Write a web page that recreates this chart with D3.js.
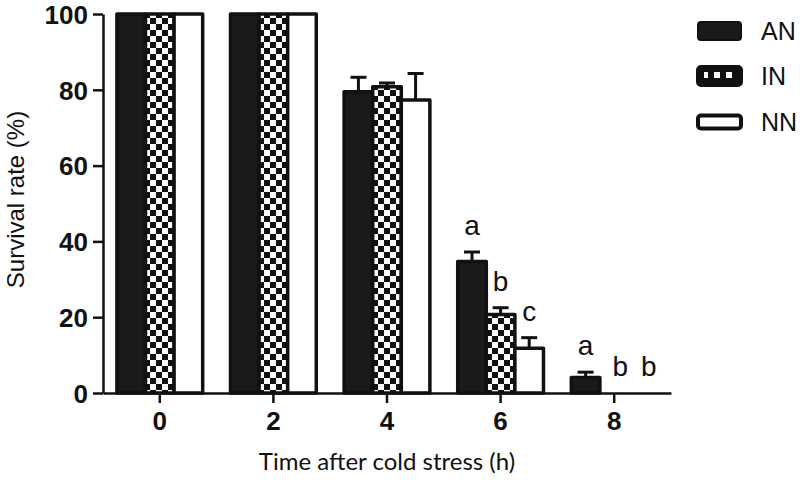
<!DOCTYPE html>
<html>
<head>
<meta charset="utf-8">
<script src="https://cdn.jsdelivr.net/npm/d3@7"></script>
<style>
  body { margin: 0; background: #fff; }
  svg { display: block; }
</style>
</head>
<body>
<svg id="chart" width="800" height="480"></svg>
<script>
// ---- data ----
const times = ["0", "2", "4", "6", "8"];
const seriesNames = ["AN", "IN", "NN"];
const valuesAN = [100, 100, 79.5, 34.7, 4.1];
const valuesIN = [100, 100, 80.8, 20.7, 0];
const valuesNN = [100, 100, 77.3, 11.8, 0];
const errAN = [0, 0, 3.8, 2.5, 1.4];
const errIN = [0, 0, 1.0, 1.8, 0];
const errNN = [0, 0, 7.0, 2.8, 0];
const lettersAN = ["", "", "", "a", "a"];
const lettersIN = ["", "", "", "b", "b"];
const lettersNN = ["", "", "", "c", "b"];
const yTicks = [0, 20, 40, 60, 80, 100];

const values = { AN: valuesAN, IN: valuesIN, NN: valuesNN };
const errs = { AN: errAN, IN: errIN, NN: errNN };
const letters = { AN: lettersAN, IN: lettersIN, NN: lettersNN };

const svg = d3.select("#chart");
const defs = svg.append("defs");
const pat = defs.append("pattern").attr("id", "checker")
  .attr("patternUnits", "userSpaceOnUse").attr("width", 12).attr("height", 12);
pat.append("rect").attr("width", 12).attr("height", 12).attr("fill", "#fff");
pat.append("rect").attr("x", 0).attr("y", 0).attr("width", 6).attr("height", 6).attr("fill", "#111");
pat.append("rect").attr("x", 6).attr("y", 6).attr("width", 6).attr("height", 6).attr("fill", "#111");

const fills = { AN: "#1a1a1a", IN: "url(#checker)", NN: "#fff" };

const x0 = d3.scaleBand().domain(times).range([103, 671]).padding(0);
const groupW = x0.bandwidth() * 0.755;
const x1 = d3.scaleBand().domain(seriesNames).range([0, groupW]).padding(0);
const y = d3.scaleLinear().domain([0, 100]).range([393, 14]);

const rows = [];
times.forEach((t, i) => {
  seriesNames.forEach(s => {
    rows.push({ t, s, v: values[s][i], e: errs[s][i], l: letters[s][i] });
  });
});

const barX = d => x0(d.t) + (x0.bandwidth() - groupW) / 2 + x1(d.s);

// bars
const g = svg.append("g");
g.selectAll("rect.bar").data(rows.filter(d => d.v > 0)).join("rect")
  .attr("class", "bar")
  .attr("x", d => barX(d))
  .attr("y", d => y(d.v))
  .attr("width", x1.bandwidth())
  .attr("height", d => y(0) - y(d.v))
  .attr("fill", d => fills[d.s])
  .attr("stroke", "#111")
  .attr("stroke-width", 3.5)
  .attr("stroke-linejoin", "round");

// error bars
const eb = rows.filter(d => d.e > 0);
g.selectAll("line.err").data(eb).join("line")
  .attr("x1", d => barX(d) + x1.bandwidth() / 2)
  .attr("x2", d => barX(d) + x1.bandwidth() / 2)
  .attr("y1", d => y(d.v))
  .attr("y2", d => y(d.v + d.e))
  .attr("stroke", "#111").attr("stroke-width", 3);
g.selectAll("line.cap").data(eb).join("line")
  .attr("x1", d => barX(d) + x1.bandwidth() / 2 - 8)
  .attr("x2", d => barX(d) + x1.bandwidth() / 2 + 8)
  .attr("y1", d => y(d.v + d.e))
  .attr("y2", d => y(d.v + d.e))
  .attr("stroke", "#111").attr("stroke-width", 3);

// letters
g.selectAll("text.let").data(rows.filter(d => d.l)).join("text")
  .attr("x", d => barX(d) + x1.bandwidth() / 2 + (d.t === "8" && d.s !== "AN" ? 6 : 0))
  .attr("y", d => y(d.v + d.e) - 17)
  .attr("text-anchor", "middle")
  .attr("font-family", "Liberation Sans, Arial, sans-serif")
  .attr("font-size", 28)
  .attr("fill", "#111")
  .text(d => d.l);

// axes
const yAxis = svg.append("g").attr("transform", "translate(103,0)")
  .call(d3.axisLeft(y).tickValues(yTicks).tickSize(10).tickSizeOuter(0).tickPadding(5));
const xAxis = svg.append("g").attr("transform", `translate(0,${y(0)})`)
  .call(d3.axisBottom(x0).tickSize(10).tickSizeOuter(0).tickPadding(9));
[yAxis, xAxis].forEach(a => {
  a.selectAll("path, line").attr("stroke", "#111").attr("stroke-width", 2.5);
  a.selectAll("text").attr("font-family", "Liberation Sans, Arial, sans-serif")
    .attr("font-weight", "bold").attr("font-size", 26).attr("fill", "#111");
});
yAxis.selectAll("text").attr("dy", "0.36em");

// axis titles
svg.append("text")
  .attr("transform", `translate(24,${(14 + 393) / 2 - 4}) rotate(-90)`)
  .attr("text-anchor", "middle")
  .attr("font-family", "Liberation Sans, Arial, sans-serif")
  .attr("font-size", 24).attr("fill", "#111")
  .text("Survival rate (%)");
svg.append("text")
  .attr("x", 387).attr("y", 470)
  .attr("text-anchor", "middle")
  .attr("font-family", "Lato, Open Sans, sans-serif")
  .attr("font-size", 24).attr("fill", "#111")
  .text("Time after cold stress (h)");

// legend
const legRows = [31, 76, 122];
const leg = svg.append("g");
seriesNames.forEach((s, i) => {
  const h = s === "NN" ? 13 : 18;
  leg.append("rect")
    .attr("x", 698).attr("y", legRows[i] - h / 2)
    .attr("width", 43).attr("height", h)
    .attr("rx", 3)
    .attr("fill", s === "IN" ? "#111" : fills[s])
    .attr("stroke", "#111").attr("stroke-width", s === "AN" ? 2 : 4);
  if (s === "IN") {
    leg.append("rect")
      .attr("x", 704).attr("y", legRows[i] - 4)
      .attr("width", 31).attr("height", 6)
      .attr("fill", "url(#checker)");
  }
  leg.append("text")
    .attr("x", 761).attr("y", legRows[i] + 9)
    .attr("font-family", "Liberation Sans, Arial, sans-serif")
    .attr("font-size", 25).attr("fill", "#111")
    .text(s);
});
</script>
</body>
</html>
